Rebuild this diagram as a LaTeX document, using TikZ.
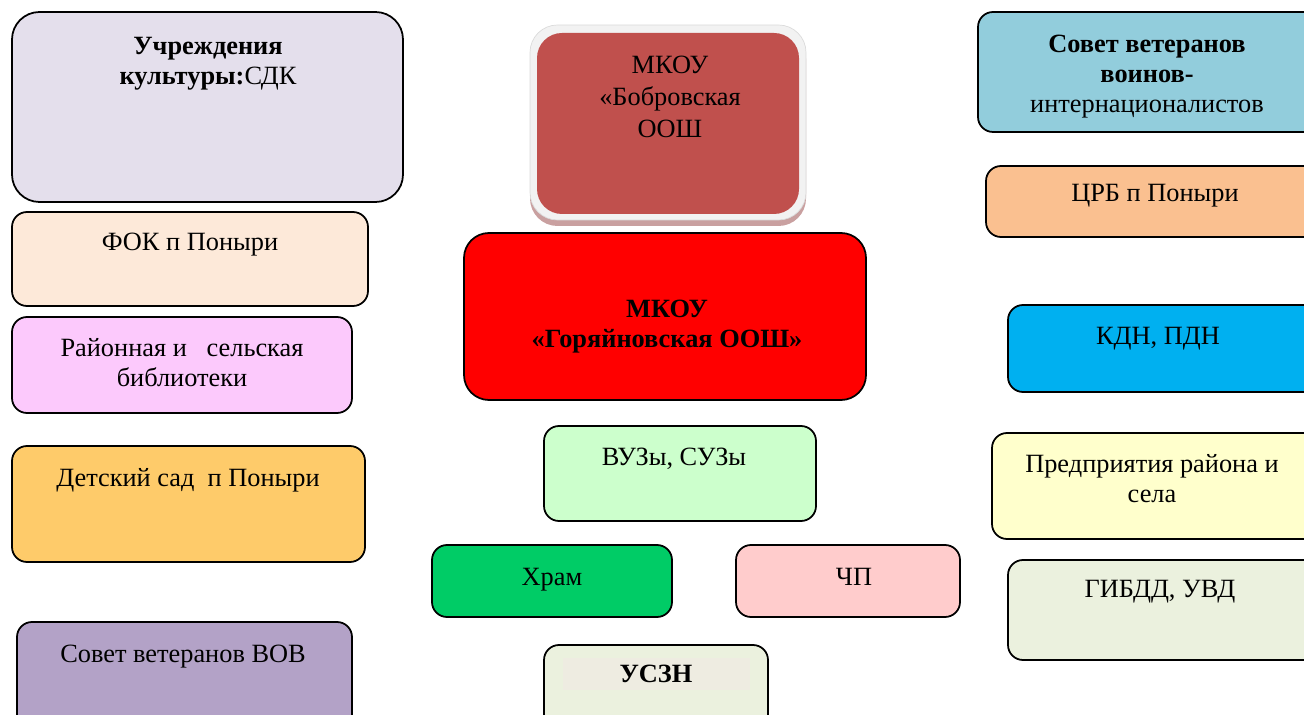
\documentclass[tikz,border=0pt]{standalone}
\usepackage{fontspec}
\setmainfont{Liberation Serif}
\usetikzlibrary{positioning}

\definecolor{lavbox}{HTML}{E4DFEC}
\definecolor{peachbox}{HTML}{FDE9D9}
\definecolor{pinkbox}{HTML}{FCC9FC}
\definecolor{goldbox}{HTML}{FECB6A}
\definecolor{violetbox}{HTML}{B3A2C7}
\definecolor{brickbox}{HTML}{C0504D}
\definecolor{brickshadow}{HTML}{C9A0A0}
\definecolor{framebox}{HTML}{F2F2F2}
\definecolor{mintbox}{HTML}{CCFFCC}
\definecolor{greenbox}{HTML}{00CC66}
\definecolor{rosebox}{HTML}{FFCCCC}
\definecolor{sagebox}{HTML}{EBF1DE}
\definecolor{sandbox}{HTML}{EEECE1}
\definecolor{tealbox}{HTML}{92CDDC}
\definecolor{apricotbox}{HTML}{FAC090}
\definecolor{skybox}{HTML}{00B0F0}
\definecolor{creambox}{HTML}{FFFFCC}

\begin{document}
\begin{tikzpicture}[x=0.02cm, y=-0.02cm,
	box/.style={draw=black, line width=1pt, rounded corners=0.3cm},
	label/.style={anchor=north, inner sep=0pt, align=center, font=\fontsize{15}{17}\selectfont}]
	\useasboundingbox (0,0) rectangle (1304,715);
	\clip (0,0) rectangle (1304,715);
	
	% Left column
	\draw[box, fill=lavbox, rounded corners=0.55cm] (12,12) rectangle (403,202); % culture
	\node[label] (culture) at (208,37) {\textbf{Учреждения}\\\textbf{культуры:}СДК};
	\draw[box, fill=peachbox] (12,212) rectangle (368,306);
	\node[label] (fok) at (190,233) {ФОК п Поныри};
	\draw[box, fill=pinkbox] (12,317) rectangle (352,413);
	\node[label] (library) at (182,338) {Районная и\ \ \ сельская\\библиотеки};
	\draw[box, fill=goldbox] (12,446) rectangle (365,562);
	\node[label] (kinder) at (188,468) {Детский сад\ \ п Поныри};
	\draw[box, fill=violetbox] (17,622) rectangle (352,730);
	\node[label] (veterans) at (183,645) {Совет ветеранов ВОВ};
	
	% Centre column
	\fill[brickshadow, rounded corners=0.55cm] (530,31) rectangle (806,226); % shadow
	\draw[framebox!80!gray, fill=framebox, rounded corners=0.55cm] (530,25) rectangle (806,220);
	\fill[brickbox, rounded corners=0.5cm] (537,33) rectangle (799,214);
	\node[label, font=\fontsize{15}{18}\selectfont] (bobrov) at (670,56) {МКОУ\\«Бобровская\\ООШ};
	\draw[box, fill=red, rounded corners=0.5cm] (464,233) rectangle (866,400); % main school
	\node[label, font=\fontsize{15}{17}\selectfont\bfseries] (goryain) at (667,300) {МКОУ\\«Горяйновская ООШ»};
	\draw[box, fill=mintbox] (544,426) rectangle (816,521);
	\node[label] (univ) at (674,448) {ВУЗы, СУЗы};
	\draw[box, fill=greenbox] (432,545) rectangle (672,617);
	\node[label] (church) at (552,568) {Храм};
	\draw[box, fill=rosebox] (736,545) rectangle (960,617);
	\node[label] (emergency) at (854,568) {ЧП};
	\draw[box, fill=sagebox] (544,645) rectangle (768,730);
	\fill[sandbox] (563,658) rectangle (750,690);
	\node[label, font=\fontsize{15}{17}\selectfont\bfseries] (uszn) at (656,665) {УСЗН};
	
	% Right column
	\draw[box, fill=tealbox] (978,12) rectangle (1330,132);
	\node[label] (afghan) at (1147,35) {\textbf{Совет ветеранов}\\\textbf{воинов-}\\интернационалистов};
	\draw[box, fill=apricotbox] (986,166) rectangle (1330,237);
	\node[label] (hospital) at (1155,184) {ЦРБ п Поныри};
	\draw[box, fill=skybox] (1008,305) rectangle (1330,392);
	\node[label] (police) at (1158,327) {КДН, ПДН};
	\draw[box, fill=creambox] (992,433) rectangle (1330,539);
	\node[label] (firms) at (1152,454) {Предприятия района и\\села};
	\draw[box, fill=sagebox] (1008,560) rectangle (1330,660);
	\node[label] (traffic) at (1160,580) {ГИБДД, УВД};
\end{tikzpicture}
\end{document}
